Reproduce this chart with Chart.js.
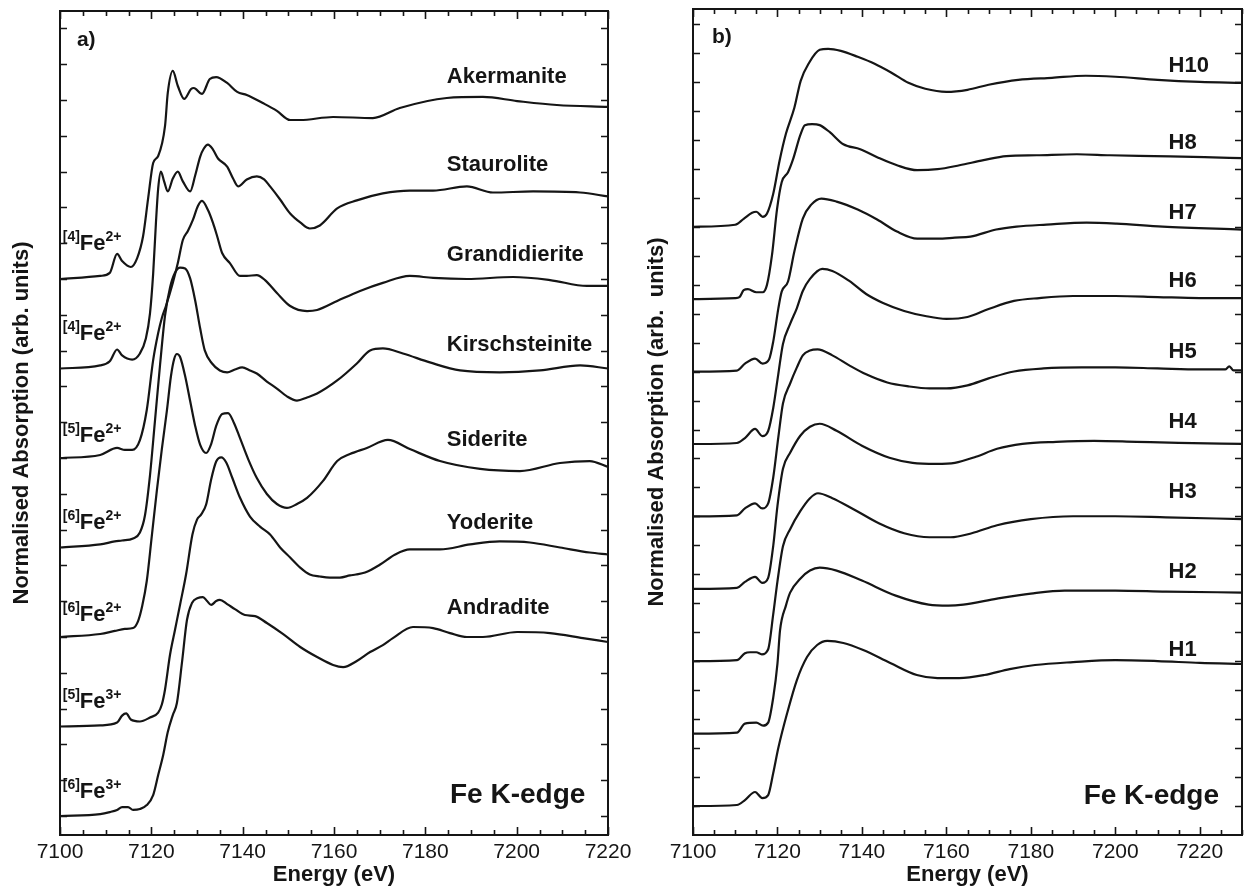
<!DOCTYPE html>
<html>
<head>
<meta charset="utf-8">
<script src="https://cdn.jsdelivr.net/npm/chart.js@4.4.1/dist/chart.umd.min.js"></script>
<style>
  html, body { margin: 0; padding: 0; background: #fff; }
  #wrap { position: relative; width: 1245px; height: 889px; }
  .panel { position: absolute; top: 0; height: 889px; }
  #pa { left: 0; width: 638px; }
  #pb { left: 638px; width: 607px; }
</style>
</head>
<body>
<div id="wrap">
  <div class="panel" id="pa"><canvas id="chartA"></canvas></div>
  <div class="panel" id="pb"><canvas id="chartB"></canvas></div>
</div>
<script>
// ---- panel a: reference minerals (normalised, offset per spectrum) ----
const mineralNames = ['Akermanite', 'Staurolite', 'Grandidierite', 'Kirschsteinite', 'Siderite', 'Yoderite', 'Andradite'];
const mineralSites = [['4', '2+'], ['4', '2+'], ['5', '2+'], ['6', '2+'], ['6', '2+'], ['5', '3+'], ['6', '3+']];
const mineralOffsets = [3.0, 2.5, 2.0, 1.5, 1.0, 0.5, 0];

const akermaniteE = [7100, 7108.8, 7110.9, 7112.5, 7113.6, 7115.5, 7116.9, 7118.2, 7119.3, 7120.4, 7121.5, 7123.0, 7123.6, 7124.7, 7125.8, 7127.2, 7128.7, 7129.3, 7131.1, 7132.8, 7134.2, 7136.6, 7138.8, 7140.9, 7144.4, 7147.5, 7150.4, 7152.6, 7159.8, 7168.5, 7174.4, 7184.7, 7192.6, 7200.1, 7208.8, 7220];
const akermaniteMu = [0, 0.017, 0.034, 0.14, 0.10, 0.067, 0.117, 0.24, 0.45, 0.648, 0.687, 0.855, 1.039, 1.162, 1.078, 1.006, 1.061, 1.067, 1.034, 1.117, 1.128, 1.095, 1.045, 1.028, 0.983, 0.939, 0.888, 0.888, 0.905, 0.899, 0.955, 1.011, 1.017, 0.994, 0.972, 0.961];

const stauroliteE = [7100, 7108.8, 7110.9, 7112.5, 7113.6, 7115.8, 7117.5, 7118.8, 7119.7, 7120.4, 7121.0, 7121.5, 7122.1, 7122.8, 7123.6, 7124.7, 7125.8, 7126.9, 7128.5, 7129.6, 7130.7, 7131.5, 7132.4, 7133.5, 7134.6, 7136.6, 7137.9, 7139.0, 7140.9, 7143.1, 7144.7, 7146.0, 7148.2, 7150.4, 7152.6, 7154.7, 7156.9, 7160.7, 7165.0, 7170.7, 7176.6, 7181.7, 7189.1, 7194.8, 7203.6, 7213.9, 7220];
const stauroliteMu = [0, 0.017, 0.04, 0.106, 0.073, 0.05, 0.084, 0.168, 0.307, 0.53, 0.81, 1.006, 1.10, 1.045, 0.989, 1.061, 1.10, 1.045, 0.989, 1.078, 1.184, 1.229, 1.251, 1.223, 1.173, 1.128, 1.061, 1.017, 1.056, 1.073, 1.056, 1.017, 0.944, 0.866, 0.816, 0.782, 0.799, 0.894, 0.939, 0.978, 0.994, 0.994, 1.017, 0.983, 0.989, 0.983, 0.961];

const grandidieriteE = [7100, 7108.8, 7112.5, 7114.2, 7115.8, 7117.5, 7119.0, 7120.4, 7121.5, 7122.3, 7123.2, 7124.7, 7125.8, 7126.9, 7128.0, 7129.1, 7130.2, 7131.1, 7132.4, 7133.5, 7134.4, 7135.5, 7137.2, 7139.4, 7140.9, 7143.1, 7144.9, 7147.5, 7150.4, 7154.1, 7156.3, 7160.7, 7165.7, 7170.7, 7176.6, 7181.7, 7189.1, 7199.2, 7207.3, 7215.4, 7220];
const grandidieriteMu = [0, 0.017, 0.056, 0.045, 0.045, 0.10, 0.268, 0.547, 0.698, 0.782, 0.849, 0.978, 1.089, 1.218, 1.268, 1.33, 1.408, 1.436, 1.385, 1.313, 1.24, 1.145, 1.089, 1.017, 1.017, 1.022, 0.994, 0.922, 0.849, 0.821, 0.827, 0.877, 0.933, 0.978, 1.017, 1.006, 1.0, 1.011, 0.994, 0.961, 0.961];

const kirschsteiniteE = [7100, 7108.8, 7112.0, 7113.6, 7116.0, 7117.5, 7118.6, 7119.7, 7120.8, 7121.9, 7123.0, 7124.1, 7125.2, 7126.3, 7127.4, 7128.5, 7129.6, 7130.7, 7131.7, 7133.3, 7135.0, 7136.6, 7138.3, 7139.9, 7141.6, 7143.1, 7145.3, 7147.5, 7149.7, 7151.9, 7154.1, 7156.3, 7160.7, 7165.0, 7167.9, 7170.7, 7175.1, 7181.0, 7187.6, 7196.3, 7205.1, 7213.9, 7220];
const kirschsteiniteMu = [0, 0.017, 0.034, 0.039, 0.05, 0.084, 0.179, 0.402, 0.709, 1.017, 1.296, 1.453, 1.536, 1.564, 1.559, 1.503, 1.38, 1.223, 1.101, 1.028, 0.989, 0.978, 0.994, 1.006, 0.989, 0.972, 0.927, 0.888, 0.844, 0.821, 0.838, 0.86, 0.933, 1.028, 1.101, 1.112, 1.084, 1.034, 0.989, 0.978, 0.989, 1.017, 1.0];

const sideriteE = [7100, 7108.8, 7112.0, 7114.2, 7116.0, 7117.1, 7118.0, 7119.0, 7120.1, 7121.2, 7122.3, 7123.4, 7124.3, 7125.0, 7125.6, 7126.3, 7127.4, 7128.5, 7129.6, 7130.7, 7132.0, 7133.1, 7134.2, 7135.5, 7136.8, 7138.1, 7139.4, 7141.2, 7143.1, 7145.3, 7147.5, 7149.7, 7151.9, 7154.1, 7157.6, 7160.7, 7163.5, 7167.2, 7171.8, 7176.6, 7183.2, 7192.0, 7200.7, 7209.5, 7216.0, 7220];
const sideriteMu = [0, 0.017, 0.034, 0.045, 0.05, 0.089, 0.173, 0.313, 0.564, 0.816, 1.05, 1.263, 1.458, 1.553, 1.581, 1.564, 1.458, 1.318, 1.179, 1.073, 1.028, 1.078, 1.179, 1.246, 1.251, 1.196, 1.112, 0.994, 0.888, 0.799, 0.743, 0.721, 0.743, 0.777, 0.872, 0.983, 1.022, 1.056, 1.101, 1.05, 0.983, 0.939, 0.927, 0.972, 0.983, 0.95];

const yoderiteE = [7100, 7108.8, 7112.5, 7113.6, 7114.5, 7115.5, 7117.5, 7119.7, 7121.5, 7122.3, 7123.0, 7124.1, 7125.2, 7126.3, 7127.6, 7129.0, 7130.0, 7130.9, 7132.0, 7133.1, 7134.2, 7135.3, 7136.4, 7137.7, 7139.4, 7141.6, 7143.8, 7146.0, 7148.2, 7150.4, 7152.6, 7154.7, 7156.9, 7159.1, 7161.3, 7163.5, 7164.8, 7166.8, 7170.1, 7173.4, 7176.6, 7183.2, 7189.8, 7196.3, 7202.9, 7209.5, 7216.0, 7220];
const yoderiteMu = [0, 0.006, 0.022, 0.061, 0.073, 0.039, 0.028, 0.05, 0.078, 0.123, 0.207, 0.402, 0.542, 0.682, 0.849, 1.073, 1.156, 1.184, 1.24, 1.38, 1.48, 1.503, 1.475, 1.391, 1.279, 1.173, 1.117, 1.073, 1.0, 0.944, 0.888, 0.849, 0.838, 0.832, 0.832, 0.844, 0.849, 0.86, 0.905, 0.961, 0.989, 0.989, 1.017, 1.034, 1.028, 1.0, 0.972, 0.961];

const andraditeE = [7100, 7108.8, 7110.9, 7112.5, 7113.6, 7114.9, 7116.0, 7117.5, 7119.0, 7120.4, 7121.5, 7122.6, 7123.6, 7124.7, 7125.6, 7126.7, 7127.8, 7128.9, 7130.2, 7131.3, 7132.2, 7133.1, 7134.2, 7135.0, 7136.6, 7138.3, 7140.5, 7142.7, 7145.3, 7148.8, 7152.6, 7156.3, 7159.8, 7162.0, 7165.0, 7167.9, 7170.7, 7172.9, 7177.3, 7181.7, 7185.4, 7189.1, 7192.6, 7200.1, 7207.3, 7214.5, 7220];
const andraditeMu = [0, 0.011, 0.022, 0.034, 0.05, 0.05, 0.034, 0.039, 0.061, 0.117, 0.229, 0.341, 0.469, 0.564, 0.631, 0.855, 1.095, 1.19, 1.218, 1.223, 1.201, 1.179, 1.201, 1.207, 1.184, 1.156, 1.123, 1.117, 1.078, 1.017, 0.944, 0.888, 0.844, 0.832, 0.866, 0.916, 0.955, 0.994, 1.056, 1.05, 1.022, 1.0, 1.0, 1.028, 1.022, 0.994, 0.972];

// ---- panel b: samples H10 ... H1 ----
const sampleNames = ['H10', 'H8', 'H7', 'H6', 'H5', 'H4', 'H3', 'H2', 'H1'];
const sampleOffsets = [4.0, 3.5, 3.0, 2.5, 2.0, 1.5, 1.0, 0.5, 0];

const h10E = [7100, 7110, 7112, 7114, 7115, 7116.5, 7117.5, 7119, 7120.5, 7122, 7124, 7125.5, 7127.5, 7130, 7132, 7135, 7139, 7143, 7147, 7151, 7155, 7160, 7165, 7170, 7177, 7185, 7193, 7200, 7210, 7220, 7230];
const h10Mu = [0, 0.014, 0.055, 0.097, 0.104, 0.069, 0.09, 0.228, 0.456, 0.642, 0.822, 1.008, 1.133, 1.222, 1.229, 1.215, 1.174, 1.126, 1.064, 0.994, 0.953, 0.932, 0.946, 0.981, 1.015, 1.029, 1.043, 1.036, 1.015, 1.001, 0.994];

const h8E = [7100, 7110, 7111, 7112, 7113, 7115, 7116.5, 7117.5, 7118.7, 7119.9, 7121, 7122.5, 7123.7, 7125.4, 7126.5, 7128.2, 7130, 7132.4, 7135.6, 7139.6, 7143.6, 7148.3, 7153.1, 7157.9, 7163.1, 7168.8, 7174.2, 7181.4, 7190.9, 7198.7, 7209.2, 7221.1, 7230];
const h8Mu = [0, 0.007, 0.014, 0.062, 0.069, 0.048, 0.048, 0.097, 0.304, 0.622, 0.808, 0.877, 0.967, 1.133, 1.202, 1.209, 1.202, 1.153, 1.07, 1.036, 0.981, 0.925, 0.891, 0.898, 0.925, 0.96, 0.988, 0.994, 1.001, 0.994, 0.988, 0.981, 0.974];

const h7E = [7100, 7110.4, 7112.3, 7114.7, 7116.5, 7118, 7119, 7120.2, 7121, 7122.5, 7124, 7126, 7128, 7130.4, 7134, 7139, 7143.6, 7148.3, 7153.1, 7157.9, 7162, 7165.7, 7171.8, 7176.6, 7183.7, 7193.2, 7200.3, 7211.2, 7230];
const h7Mu = [0, 0.007, 0.055, 0.09, 0.055, 0.083, 0.207, 0.435, 0.552, 0.622, 0.829, 1.057, 1.153, 1.195, 1.174, 1.119, 1.05, 0.967, 0.918, 0.918, 0.925, 0.932, 0.981, 1.001, 1.015, 1.029, 1.022, 1.001, 0.981];

const h6E = [7100, 7110.4, 7112.3, 7114.7, 7116.4, 7117.8, 7119, 7120.2, 7121.3, 7123, 7124.6, 7126, 7127.7, 7130.6, 7133, 7137, 7141, 7145, 7150, 7155, 7160, 7165, 7170, 7176, 7182, 7190, 7200, 7210, 7220, 7230];
const h6Mu = [0, 0.007, 0.041, 0.104, 0.055, 0.09, 0.249, 0.483, 0.691, 0.829, 0.939, 1.057, 1.14, 1.209, 1.195, 1.126, 1.036, 0.974, 0.919, 0.884, 0.864, 0.877, 0.932, 0.988, 1.008, 1.022, 1.022, 1.015, 1.008, 1.008];

const h5E = [7100, 7110.4, 7112.3, 7114.7, 7116.4, 7117.8, 7119, 7120.2, 7121.3, 7123, 7124.6, 7126, 7127.7, 7129.5, 7133, 7137, 7141, 7146, 7151, 7156, 7160, 7165, 7170, 7176, 7183, 7192, 7200, 7210, 7220, 7226, 7227, 7228, 7230];
const h5Mu = [0, 0.007, 0.055, 0.09, 0.055, 0.09, 0.269, 0.546, 0.78, 0.918, 1.029, 1.112, 1.146, 1.153, 1.112, 1.043, 0.981, 0.925, 0.898, 0.884, 0.884, 0.905, 0.953, 1.001, 1.022, 1.029, 1.029, 1.022, 1.015, 1.015, 1.036, 1.008, 1.008];

const h4E = [7100, 7110.4, 7112.3, 7114.7, 7116.4, 7117.8, 7119, 7120, 7121.3, 7123, 7125.4, 7127.7, 7130, 7134, 7140, 7146.5, 7152, 7157.6, 7162, 7167, 7172, 7178, 7186, 7195, 7205, 7215, 7230];
const h4Mu = [0, 0.007, 0.048, 0.083, 0.041, 0.076, 0.297, 0.573, 0.829, 0.939, 1.057, 1.119, 1.14, 1.091, 0.988, 0.905, 0.87, 0.863, 0.87, 0.912, 0.967, 1.001, 1.015, 1.022, 1.015, 1.008, 1.001];

const h3E = [7100, 7110.4, 7112.3, 7113.5, 7115, 7116.3, 7117.8, 7119, 7120, 7121.3, 7123, 7125.4, 7127.7, 7129.6, 7133, 7138, 7144, 7150, 7156, 7161, 7166, 7172, 7180, 7190, 7200, 7212, 7230];
const h3Mu = [0, 0.007, 0.055, 0.062, 0.062, 0.048, 0.083, 0.325, 0.552, 0.794, 0.912, 1.036, 1.126, 1.16, 1.126, 1.05, 0.953, 0.884, 0.856, 0.856, 0.884, 0.939, 0.981, 1.001, 1.001, 0.994, 0.981];

const h2E = [7100, 7110.4, 7112.3, 7115, 7116.6, 7117.8, 7119, 7120, 7120.6, 7122, 7123, 7125.4, 7127.7, 7130, 7134, 7140, 7148, 7155.8, 7160.5, 7164, 7172, 7180, 7188, 7200, 7212, 7230];
const h2Mu = [0, 0.007, 0.069, 0.076, 0.055, 0.076, 0.249, 0.483, 0.711, 0.884, 0.974, 1.07, 1.126, 1.146, 1.126, 1.057, 0.953, 0.891, 0.884, 0.891, 0.932, 0.967, 0.988, 0.988, 0.981, 0.974];

const h1E = [7100, 7110.4, 7112.3, 7114.7, 7116.4, 7117.8, 7119, 7120.2, 7122.3, 7124.6, 7127, 7129.4, 7131.8, 7135.6, 7140.3, 7146.7, 7153, 7157.9, 7163, 7169, 7175, 7181, 7190, 7200, 7210, 7220, 7230];
const h1Mu = [0, 0.007, 0.041, 0.097, 0.055, 0.076, 0.228, 0.401, 0.642, 0.87, 1.029, 1.112, 1.14, 1.126, 1.077, 0.988, 0.905, 0.884, 0.884, 0.905, 0.946, 0.974, 0.994, 1.008, 1.001, 0.988, 0.981];

// axis ticks (normalised absorption units, 0.2 per tick)
const yTicksA = Array.from({length: 23}, (_, i) => +(i * 0.2).toFixed(1));
const yTicksB = Array.from({length: 28}, (_, i) => +(i * 0.2).toFixed(1));

const mineralSpectra = [
  [akermaniteE, akermaniteMu], [stauroliteE, stauroliteMu], [grandidieriteE, grandidieriteMu],
  [kirschsteiniteE, kirschsteiniteMu], [sideriteE, sideriteMu], [yoderiteE, yoderiteMu], [andraditeE, andraditeMu]
];
const sampleSpectra = [
  [h10E, h10Mu], [h8E, h8Mu], [h7E, h7Mu], [h6E, h6Mu], [h5E, h5Mu],
  [h4E, h4Mu], [h3E, h3Mu], [h2E, h2Mu], [h1E, h1Mu]
];

const FONT = "'Liberation Sans', Arial, Helvetica, sans-serif";
const INK = '#151515';

function toDatasets(spectra, offsets) {
  return spectra.map(([e, mu], i) => ({
    data: e.map((x, j) => ({x: x, y: mu[j] + offsets[i]})),
    borderColor: INK,
    borderWidth: 2.2,
    pointRadius: 0,
    cubicInterpolationMode: 'monotone',
    fill: false
  }));
}

// frame, inward ticks and text labels
const framePlugin = {
  id: 'frame',
  afterDraw(chart, args, opts) {
    const {ctx, chartArea: a} = chart;
    const x = chart.scales.x, y = chart.scales.y;
    ctx.save();
    ctx.strokeStyle = INK;
    ctx.lineWidth = 1.6;
    ctx.beginPath();
    for (let e = x.min; e <= x.max + 0.01; e += 5) {
      const px = Math.round(x.getPixelForValue(e)) + 0.5;
      const len = e % 20 === 0 ? 8 : 5;
      ctx.moveTo(px, a.bottom); ctx.lineTo(px, a.bottom - len);
      ctx.moveTo(px, a.top); ctx.lineTo(px, a.top + len);
    }
    for (const v of opts.yTicks) {
      const py = Math.round(y.getPixelForValue(v)) + 0.5;
      ctx.moveTo(a.left, py); ctx.lineTo(a.left + 7, py);
      ctx.moveTo(a.right, py); ctx.lineTo(a.right - 7, py);
    }
    ctx.stroke();
    ctx.lineWidth = 2;
    ctx.strokeRect(a.left, a.top, a.right - a.left, a.bottom - a.top);

    ctx.fillStyle = INK;
    ctx.textAlign = 'left';
    ctx.textBaseline = 'middle';
    ctx.font = 'bold 21px ' + FONT;
    ctx.fillText(opts.panel[0], x.getPixelForValue(opts.panel[1]), y.getPixelForValue(opts.panel[2]));

    ctx.font = 'bold 22px ' + FONT;
    opts.names.forEach((n, i) => {
      ctx.fillText(n, x.getPixelForValue(opts.nameX), y.getPixelForValue(opts.offsets[i] + opts.nameDy[i]));
    });

    ctx.textBaseline = 'alphabetic';
    ctx.font = 'bold 28px ' + FONT;
    ctx.fillText('Fe K-edge', x.getPixelForValue(opts.edgeX), y.getPixelForValue(opts.edgeY));

    if (opts.sites) {
      opts.sites.forEach(([cn, ox], i) => {
        let px = x.getPixelForValue(opts.siteX);
        const base = y.getPixelForValue(opts.offsets[i] + opts.siteDy[i]);
        ctx.font = 'bold 14px ' + FONT;
        const t1 = '[' + cn + ']';
        ctx.fillText(t1, px, base - 9);
        px += ctx.measureText(t1).width;
        ctx.font = 'bold 22px ' + FONT;
        ctx.fillText('Fe', px, base);
        px += ctx.measureText('Fe').width;
        ctx.font = 'bold 14px ' + FONT;
        ctx.fillText(ox, px, base - 9);
      });
    }
    ctx.restore();
  }
};

function makeOptions(cfg) {
  return {
    responsive: true,
    maintainAspectRatio: false,
    animation: false,
    devicePixelRatio: 1,
    layout: {padding: {left: 0, right: cfg.padRight, top: cfg.padTop, bottom: 0}},
    plugins: {
      legend: {display: false},
      tooltip: {enabled: false},
      frame: cfg.frame
    },
    scales: {
      x: {
        type: 'linear',
        min: 7100,
        max: cfg.xMax,
        border: {display: false},
        grid: {display: false, drawTicks: false},
        ticks: {
          stepSize: 20,
          includeBounds: false,
          autoSkip: false,
          maxRotation: 0,
          padding: 5,
          color: INK,
          font: {family: FONT, size: 21},
          callback: v => String(v)
        },
        title: {
          display: true,
          text: 'Energy (eV)',
          color: INK,
          font: {family: FONT, size: 22, weight: 'bold'},
          padding: {top: 0, bottom: 1}
        },
        afterFit: s => { s.height = 54; }
      },
      y: {
        min: cfg.yMin,
        max: cfg.yMax,
        border: {display: false},
        grid: {display: false, drawTicks: false},
        ticks: {display: false},
        title: {
          display: true,
          text: cfg.yTitle,
          color: INK,
          font: {family: FONT, size: 22, weight: 'bold'},
          padding: {top: cfg.titlePad, bottom: 0}
        },
        afterFit: s => { s.width = cfg.yWidth; }
      }
    }
  };
}

new Chart(document.getElementById('chartA'), {
  type: 'line',
  data: {datasets: toDatasets(mineralSpectra, mineralOffsets)},
  plugins: [framePlugin],
  options: makeOptions({
    padRight: 30, padTop: 11, xMax: 7220, yMin: -0.106, yMax: 4.497,
    yTitle: 'Normalised Absorption (arb. units)', titlePad: 9, yWidth: 60,
    frame: {
      yTicks: yTicksA,
      panel: ['a)', 7103.7, 4.335],
      names: mineralNames,
      offsets: mineralOffsets,
      nameX: 7184.7,
      nameDy: [1.128, 1.137, 1.134, 1.131, 1.101, 1.137, 1.162],
      edgeX: 7185.4, edgeY: 0.073,
      sites: mineralSites,
      siteX: 7100.6,
      siteDy: [0.162, 0.159, 0.089, 0.103, 0.089, 0.103, 0.101]
    }
  })
});

new Chart(document.getElementById('chartB'), {
  type: 'line',
  data: {datasets: toDatasets(sampleSpectra, sampleOffsets)},
  plugins: [framePlugin],
  options: makeOptions({
    padRight: 3, padTop: 9, xMax: 7230, yMin: -0.2, yMax: 5.504,
    yTitle: 'Normalised Absorption (arb.  units)', titlePad: 6, yWidth: 55,
    frame: {
      yTicks: yTicksB,
      panel: ['b)', 7104.5, 5.311],
      names: sampleNames,
      offsets: sampleOffsets,
      nameX: 7212.6,
      nameDy: [1.11, 1.079, 1.095, 1.126, 1.135, 1.152, 1.168, 1.116, 1.077],
      edgeX: 7192.5, edgeY: 0.014
    }
  })
});
</script>
</body>
</html>
